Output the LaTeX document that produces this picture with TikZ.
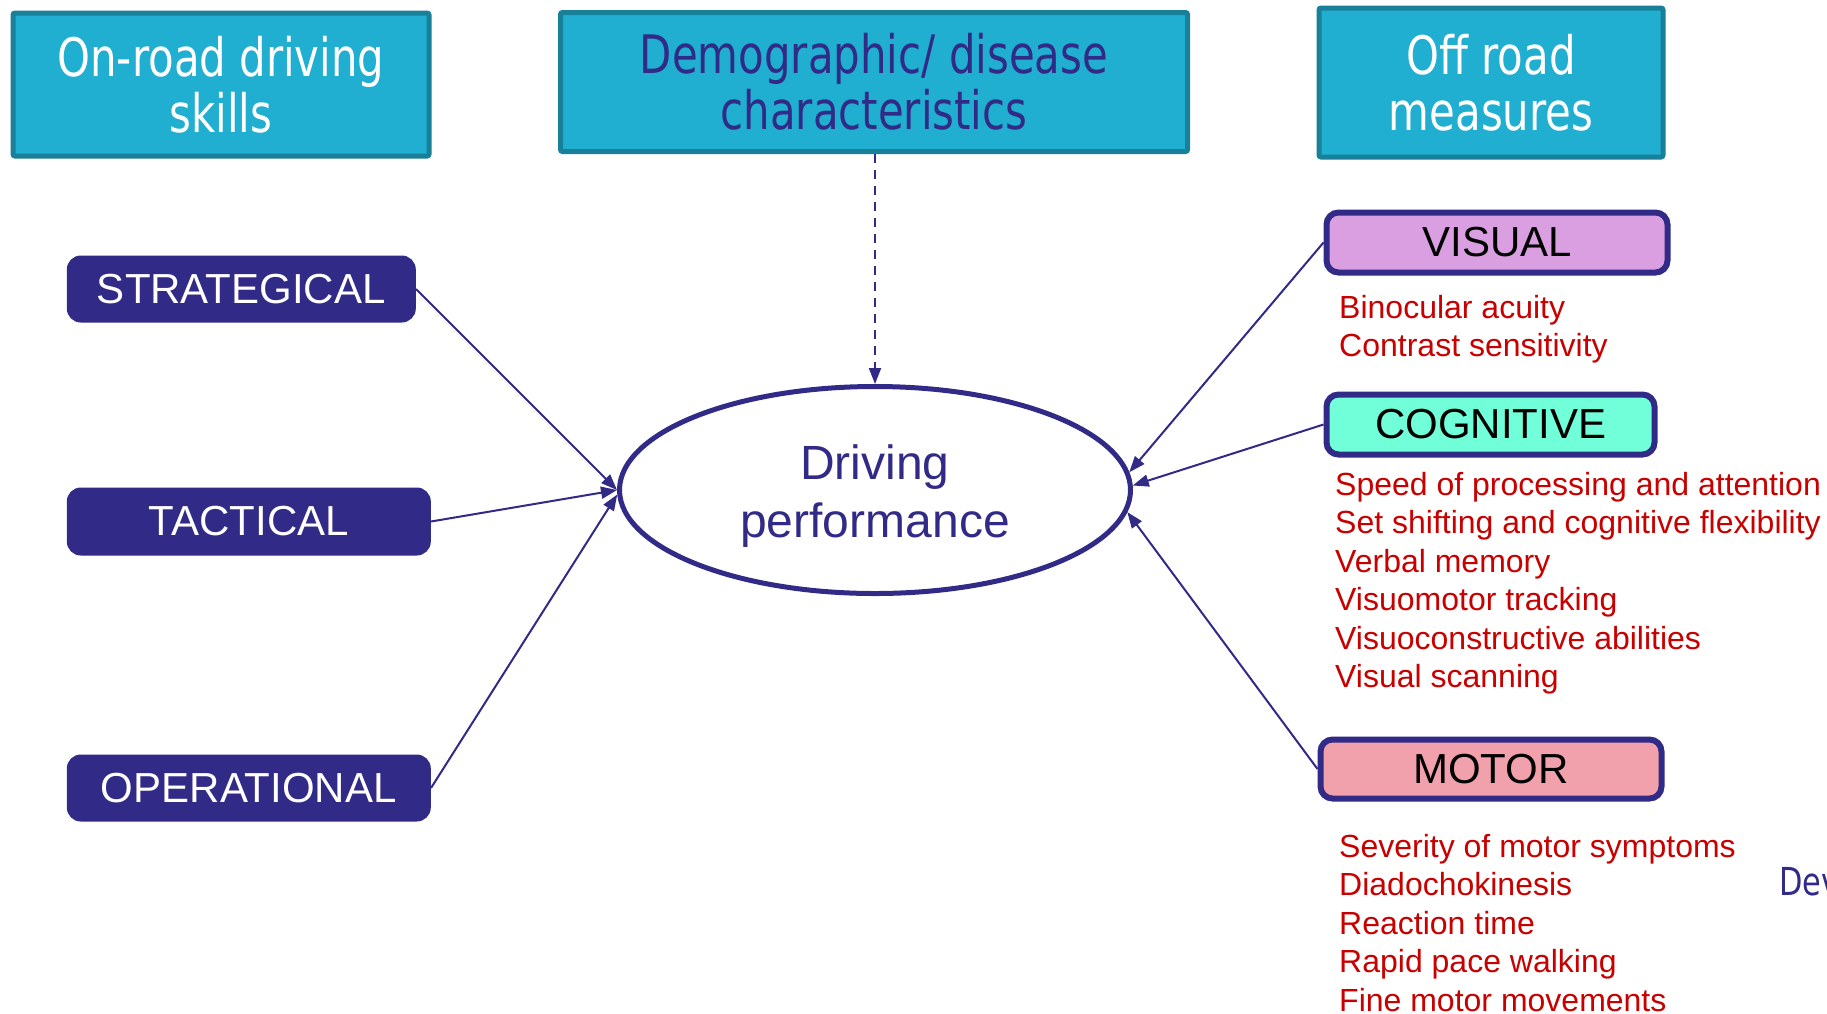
\documentclass[tikz,border=0pt]{standalone}
\usepackage{fontspec}
\setmainfont{Liberation Sans}
\newfontfamily\hdrfont[FakeStretch=0.79]{DejaVu Sans}
\usetikzlibrary{shapes.geometric,arrows.meta}
\definecolor{navy}{RGB}{49,42,135}
\definecolor{cyanfill}{RGB}{32,174,209}
\definecolor{cyanedge}{RGB}{24,128,152}
\definecolor{visfill}{RGB}{218,159,224}
\definecolor{cogfill}{RGB}{112,255,216}
\definecolor{motfill}{RGB}{240,161,172}
\definecolor{redtxt}{RGB}{200,0,0}
\begin{document}
\begin{tikzpicture}[x=1pt,y=-1pt,
  hdr/.style={draw=cyanedge, fill=cyanfill, line width=5pt, rounded corners=2pt,
    align=center, font=\hdrfont\fontsize{53}{56}\selectfont, inner sep=0pt},
  skill/.style={fill=navy, rounded corners=14pt, text=white,
    font=\fontsize{42}{48}\selectfont, inner sep=0pt},
  meas/.style={draw=navy, line width=6pt, rounded corners=12pt, text=black,
    font=\fontsize{42}{48}\selectfont, inner sep=0pt},
  item/.style={anchor=base west, text=redtxt, font=\fontsize{32}{38}\selectfont, inner sep=0pt},
  conn/.style={draw=navy, line width=2pt, -{Triangle[length=16pt,width=12pt]}},
]
\fill[white] (0,0) rectangle (1827,1013);
\useasboundingbox (0,0) rectangle (1827,1013);

% header boxes
\node[hdr, text=white, minimum width=416pt, minimum height=143pt] (onroad) at (221,84.5)
  {On-road driving\\skills};
\node[hdr, text=navy, minimum width=627pt, minimum height=139pt] (demo) at (874,82)
  {Demographic/ disease\\characteristics};
\node[hdr, text=white, minimum width=344pt, minimum height=149pt] (offroad) at (1491,82.5)
  {Off road\\measures};

% central ellipse
\node[ellipse, draw=navy, line width=5pt, minimum width=511pt, minimum height=207pt,
  inner sep=0pt,
  label={[name=dptext, text=navy, align=center, yshift=-6pt,
    font=\fontsize{48}{58}\selectfont]center:{Driving\\performance}}]
  (dp) at (875,490) {};

% on-road skills
\node[skill, minimum width=349pt, minimum height=67pt] (strat) at (241.3,289) {STRATEGICAL};
\node[skill, minimum width=364pt, minimum height=68pt] (tact) at (248.8,521.5) {TACTICAL};
\node[skill, minimum width=364pt, minimum height=67pt] (oper) at (248.8,788) {OPERATIONAL};

% off-road measures
\node[meas, fill=visfill, minimum width=341pt, minimum height=60pt] (vis) at (1497,242.5) {VISUAL};
\node[meas, fill=cogfill, minimum width=328pt, minimum height=60pt] (cog) at (1490.5,424.5) {COGNITIVE};
\node[meas, fill=motfill, minimum width=341pt, minimum height=59pt] (mot) at (1491,769) {MOTOR};

% lists
\foreach \t [count=\i] in {Binocular acuity, Contrast sensitivity}
  \node[item, name=v\i] at (1339,{318+38.5*(\i-1)}) {\t};
\foreach \t [count=\i] in {Speed of processing and attention, Set shifting and cognitive flexibility,
  Verbal memory, Visuomotor tracking, Visuoconstructive abilities, Visual scanning}
  \node[item, name=c\i] at (1335,{495+38.5*(\i-1)}) {\t};
\foreach \t [count=\i] in {Severity of motor symptoms, Diadochokinesis, Reaction time,
  Rapid pace walking, Fine motor movements}
  \node[item, name=m\i] at (1339,{857+38.5*(\i-1)}) {\t};

\node[anchor=base west, inner sep=0pt, text=navy, font=\hdrfont\fontsize{38.5}{44}\selectfont]
  (dev) at (1779,895) {Dev};

% connectors
\draw[conn, dash pattern=on 9pt off 7pt] (demo.south -| dp.north) -- (dp.north);
\draw[conn] (strat.east) -- (dp.180);
\draw[conn] (tact.east) -- (dp.180);
\draw[conn] (oper.east) -- (dp.181);
\draw[conn] (vis.west) -- (dp.4);
\draw[conn] (cog.west) -- (dp.1);
\draw[conn] (mot.west) -- (dp.-5.5);
\end{tikzpicture}
\end{document}
